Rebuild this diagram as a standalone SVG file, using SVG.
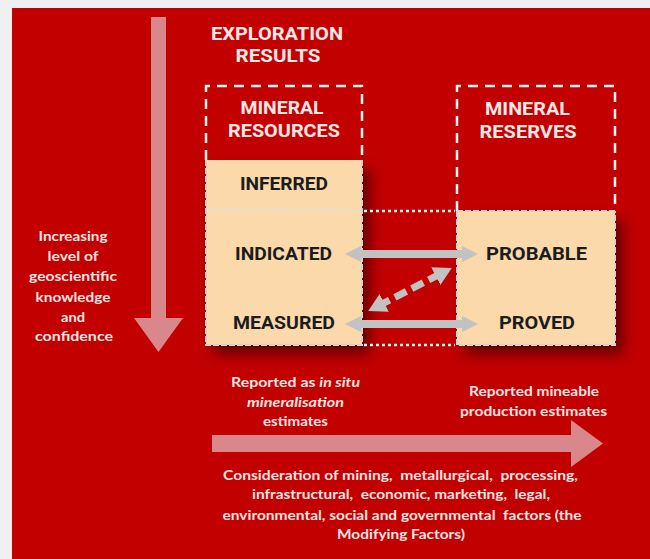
<svg xmlns="http://www.w3.org/2000/svg" width="650" height="559" viewBox="0 0 650 559">
<defs>
<style>
.hdr{font-family:Roboto,"Liberation Sans",sans-serif;font-weight:bold;font-size:18px;fill:#fde6e6;text-anchor:middle}
.lbl{font-family:Roboto,"Liberation Sans",sans-serif;font-weight:bold;font-size:18px;fill:#1c1c1c;text-anchor:middle}
.sm{font-family:Lato,"Open Sans",sans-serif;font-weight:bold;font-size:13.5px;fill:#fbe4e4;text-anchor:middle}
.frame{fill:none;stroke:#f4f4f4;stroke-width:2.5;stroke-dasharray:10 7}
.beige{fill:#fbd9ab}
.edge{fill:none;stroke:#d4d4d4;stroke-width:2;stroke-dasharray:6 2}
.dots{fill:none;stroke:#f2f2f2;stroke-width:2.5;stroke-dasharray:3 3}
.bigarrow{fill:#d9878b}
.garrow{fill:#c2c2c2}
</style>
<filter id="sh" x="-20%" y="-20%" width="160%" height="160%">
<feDropShadow dx="8" dy="9" stdDeviation="7" flood-color="#300000" flood-opacity="0.65"/>
</filter>
<marker id="ah" viewBox="0 0 18 20" refX="7" refY="10" markerWidth="18" markerHeight="20" markerUnits="userSpaceOnUse" orient="auto-start-reverse">
<path d="M0,0 L18,10 L0,20 z" fill="#c2c2c2"/>
</marker>
</defs>
<rect x="0" y="0" width="650" height="559" fill="#f0f0f0"/>
<rect x="12" y="8" width="638" height="551" fill="#c20000"/>

<g id="axis-confidence">
<polygon class="bigarrow" points="151,17 166,17 166,318 183,318 158.5,352 134,318 151,318"/>
<text class="sm" x="73" y="241" textLength="69" lengthAdjust="spacingAndGlyphs">Increasing</text>
<text class="sm" x="73" y="261" textLength="51" lengthAdjust="spacingAndGlyphs">level of</text>
<text class="sm" x="73" y="281" textLength="88" lengthAdjust="spacingAndGlyphs">geoscientific</text>
<text class="sm" x="73" y="302" textLength="75" lengthAdjust="spacingAndGlyphs">knowledge</text>
<text class="sm" x="73" y="322" textLength="24" lengthAdjust="spacingAndGlyphs">and</text>
<text class="sm" x="74" y="341" textLength="78" lengthAdjust="spacingAndGlyphs">confidence</text>
</g>

<g id="exploration-results">
<text class="hdr" x="277" y="40" textLength="132" lengthAdjust="spacingAndGlyphs">EXPLORATION</text>
<text class="hdr" x="278" y="62" textLength="85" lengthAdjust="spacingAndGlyphs">RESULTS</text>
</g>

<g id="mineral-resources">
<rect class="beige" x="206" y="160" width="156" height="185" filter="url(#sh)"/>
<path class="frame" d="M206,160 V86 H362 V160"/>
<path class="edge" d="M206,160 V345 H362 V160"/>
<line x1="206" y1="211" x2="362" y2="211" stroke="#e0e0e0" stroke-width="2.5" stroke-dasharray="3 3"/>
<text class="hdr" x="282" y="114" textLength="83" lengthAdjust="spacingAndGlyphs">MINERAL</text>
<text class="hdr" x="284" y="137" textLength="112" lengthAdjust="spacingAndGlyphs">RESOURCES</text>
</g>

<g id="inferred"><text class="lbl" x="284" y="189.5" textLength="88" lengthAdjust="spacingAndGlyphs">INFERRED</text></g>
<g id="indicated"><text class="lbl" x="283.5" y="259.5" textLength="97" lengthAdjust="spacingAndGlyphs">INDICATED</text></g>
<g id="measured"><text class="lbl" x="284" y="328.5" textLength="102" lengthAdjust="spacingAndGlyphs">MEASURED</text></g>

<g id="mineral-reserves">
<rect class="beige" x="457" y="211" width="158" height="134" filter="url(#sh)"/>
<path class="frame" d="M457,211 V86 H615 V211"/>
<path class="edge" d="M457,211 V345 H615 V211"/>
<line class="edge" x1="457" y1="211" x2="615" y2="211"/>
<text class="hdr" x="527.5" y="115" textLength="85" lengthAdjust="spacingAndGlyphs">MINERAL</text>
<text class="hdr" x="528" y="138" textLength="97" lengthAdjust="spacingAndGlyphs">RESERVES</text>
</g>

<g id="probable"><text class="lbl" x="536.5" y="259.5" textLength="101" lengthAdjust="spacingAndGlyphs">PROBABLE</text></g>
<g id="proved"><text class="lbl" x="537" y="328.5" textLength="76" lengthAdjust="spacingAndGlyphs">PROVED</text></g>

<g id="connectors">
<line class="dots" x1="364" y1="211" x2="455" y2="211"/>
<line class="dots" x1="364" y1="345" x2="455" y2="345"/>
<polygon class="garrow" points="345,254 361,246 361,250 462,250 462,246 478,254 462,262 462,258 361,258 361,262"/>
<polygon class="garrow" points="345,324 361,316 361,320 462,320 462,316 478,324 462,332 462,328 361,328 361,332"/>
<line x1="378" y1="306" x2="442" y2="273" stroke="#c2c2c2" stroke-width="7" stroke-dasharray="13 6" marker-start="url(#ah)" marker-end="url(#ah)"/>
</g>

<g id="modifying-factors">
<polygon class="bigarrow" points="212,435 571,435 571,420 603,443.5 571,467 571,452 212,452"/>
<text class="sm" x="295.5" y="387" textLength="129" lengthAdjust="spacingAndGlyphs">Reported as <tspan font-style="italic">in situ</tspan></text>
<text class="sm" x="295.5" y="407" font-style="italic" textLength="97" lengthAdjust="spacingAndGlyphs">mineralisation</text>
<text class="sm" x="295.5" y="426" textLength="65" lengthAdjust="spacingAndGlyphs">estimates</text>
<text class="sm" x="534" y="396" textLength="130" lengthAdjust="spacingAndGlyphs">Reported mineable</text>
<text class="sm" x="533.5" y="416" textLength="147" lengthAdjust="spacingAndGlyphs">production estimates</text>
<text class="sm" x="400.5" y="480" textLength="355" lengthAdjust="spacingAndGlyphs" xml:space="preserve">Consideration of mining,  metallurgical,  processing,</text>
<text class="sm" x="401" y="499" textLength="298" lengthAdjust="spacingAndGlyphs" xml:space="preserve">infrastructural,  economic, marketing,  legal,</text>
<text class="sm" x="402" y="520" textLength="359" lengthAdjust="spacingAndGlyphs" xml:space="preserve">environmental, social and governmental  factors (the</text>
<text class="sm" x="401" y="539" textLength="128" lengthAdjust="spacingAndGlyphs">Modifying Factors)</text>
</g>
</svg>
